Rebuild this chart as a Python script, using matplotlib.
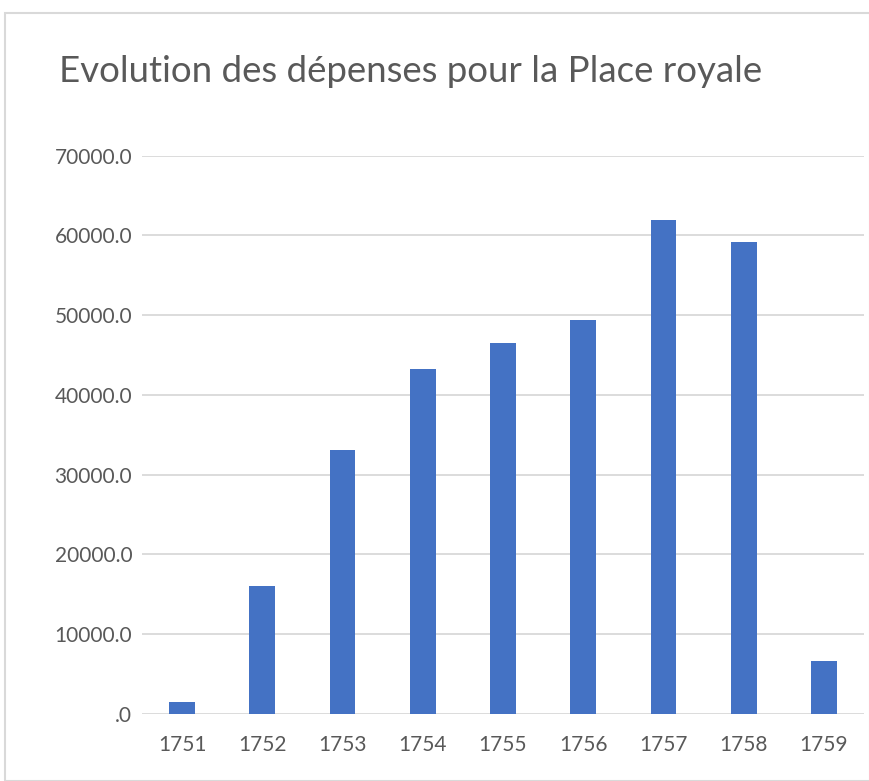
import matplotlib
matplotlib.use("Agg")
import matplotlib.pyplot as plt
from matplotlib.ticker import FuncFormatter, MultipleLocator
from matplotlib.patches import Rectangle

years = ["1751", "1752", "1753", "1754", "1755", "1756", "1757", "1758", "1759"]
depenses = [1500, 16040, 33080, 43230, 46490, 49370, 61900, 59150, 6640]

title = "Evolution des dépenses pour la Place royale"
bar_color = "#4472C4"
text_color = "#595959"
grid_color = "#D9D9D9"

plt.rcParams['font.family'] = ['Lato', 'DejaVu Sans']

W, H = 870, 781
fig = plt.figure(figsize=(W / 100, H / 100), dpi=100)
ax = fig.add_axes([142 / W, 1 - 714 / H, (864 - 142) / W, (714 - 155.5) / H])

x = list(range(len(years)))
ax.bar(x, depenses, width=0.32, color=bar_color, zorder=3)

ax.set_xlim(-0.5, len(years) - 0.5)
ax.set_ylim(0, 70000)
ax.yaxis.set_major_locator(MultipleLocator(10000))


def fmt(v, pos):
    # Excel style: zero shows as ".0"
    if v == 0:
        return ".0"
    return f"{v:.1f}"


ax.yaxis.set_major_formatter(FuncFormatter(fmt))
ax.set_xticks(x)
ax.set_xticklabels(years)
ax.tick_params(axis="both", length=0, labelsize=15, colors=text_color)
ax.tick_params(axis="y", pad=7)
ax.tick_params(axis="x", pad=15)
ax.grid(axis="y", color=grid_color, linewidth=1.3, zorder=0)
for s in ax.spines.values():
    s.set_visible(False)

fig.text(411 / W, 1 - 72 / H, title, ha="center", va="center",
         fontsize=26.4, color=text_color)

# chart area border
fig.patches.append(Rectangle((5 / W, 0), (W - 5) / W, 1 - 13 / H,
                             transform=fig.transFigure, fill=False,
                             edgecolor=grid_color, linewidth=1.5))

fig.savefig("out.png", dpi=100)
